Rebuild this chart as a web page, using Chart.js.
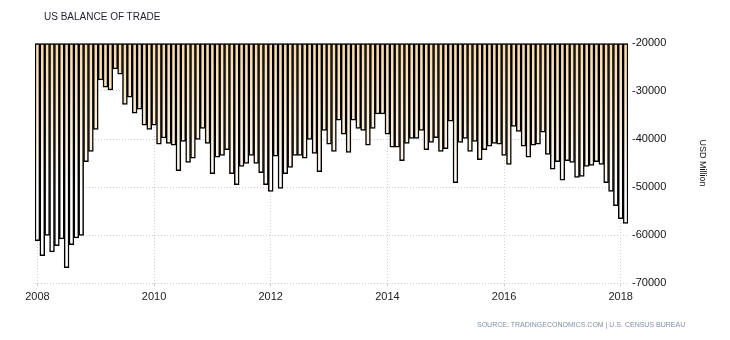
<!DOCTYPE html>
<html>
<head>
<meta charset="utf-8">
<script src="https://cdn.jsdelivr.net/npm/chart.js@4.4.1/dist/chart.umd.min.js"></script>
<style>
  html, body { margin: 0; padding: 0; background: #fff; }
  #wrap { position: relative; width: 730px; height: 340px; }
  #title {
    position: absolute; left: 44px; top: 11px;
    font: 10px "Liberation Sans", Arial, sans-serif; color: #1f1f2e;
  }
  #source {
    position: absolute; left: 477px; top: 321px; white-space: nowrap;
    font: 7px "Liberation Sans", Arial, sans-serif; color: #7f8fa6;
  }
</style>
</head>
<body>
<div id="wrap">
  <canvas id="chart" width="730" height="340"></canvas>
  <div id="title">US BALANCE OF TRADE</div>
  <div id="source">SOURCE: TRADINGECONOMICS.COM | U.S. CENSUS BUREAU</div>
</div>
<script>
// monthly balance of trade, USD million
const y2008 = [-61200, -64300, -60100, -63500, -62200, -60800, -66800, -62000, -60600, -60100, -44700, -42600];
const y2009 = [-38000, -27700, -29200, -29800, -25400, -26500, -32800, -31300, -34600, -33800, -37100, -38000];
const y2010 = [-37100, -41100, -39800, -40900, -41300, -46600, -40500, -44900, -44000, -40100, -37800, -40900];
const y2011 = [-47200, -43800, -43400, -42200, -47200, -49500, -45700, -45100, -43400, -45100, -47000, -49500];
const y2012 = [-50900, -43600, -50300, -47200, -45900, -43400, -43400, -44000, -40100, -43000, -46800, -38200];
const y2013 = [-41100, -42600, -36100, -39000, -42800, -36100, -37800, -38200, -41300, -37800, -34800, -34800];
const y2014 = [-39000, -41700, -41700, -44500, -40900, -39900, -39900, -38200, -42200, -40700, -39700, -42600];
const y2015 = [-42000, -36300, -49100, -40700, -39900, -42600, -40500, -44300, -42200, -41500, -40900, -41100];
const y2016 = [-43400, -45300, -37400, -38400, -41500, -43800, -41300, -41100, -38600, -43200, -46300, -44700];
const y2017 = [-48600, -44500, -44900, -48000, -47800, -45700, -45500, -44700, -45300, -49100, -50900, -53900];
const y2018 = [-56600, -57600];

const years = [2008, 2009, 2010, 2011, 2012, 2013, 2014, 2015, 2016, 2017, 2018];
const yearTicks = ['2008', '2010', '2012', '2014', '2016', '2018'];
const BASE = -20000;

const values = [].concat(y2008, y2009, y2010, y2011, y2012, y2013, y2014, y2015, y2016, y2017, y2018);
const labels = values.map((v, i) => `${years[Math.floor(i / 12)]}-${String(i % 12 + 1).padStart(2, '0')}`);

// label (and gridline) only on January of the listed years
function yearLabel(i) {
  const l = labels[i];
  if (!l || !l.endsWith('-01')) return '';
  const yr = l.slice(0, 4);
  return yearTicks.includes(yr) ? yr : '';
}

let grad = null;
function barFill(ctx) {
  const { chart } = ctx;
  const area = chart.chartArea;
  if (!area) return '#f7ddb0';
  if (!grad) {
    grad = chart.ctx.createLinearGradient(0, area.top, 0, area.bottom);
    grad.addColorStop(0, '#f8d9a6');
    grad.addColorStop(0.62, '#ffffff');
    grad.addColorStop(1, '#ffffff');
  }
  return grad;
}

const FONT = '"Liberation Sans", Arial, sans-serif';

new Chart(document.getElementById('chart'), {
  type: 'bar',
  data: {
    labels,
    datasets: [{
      data: values,
      base: BASE,
      backgroundColor: barFill,
      borderColor: '#000',
      borderWidth: 1.5,
      borderSkipped: false,
      barPercentage: 1,
      categoryPercentage: 1
    }]
  },
  options: {
    responsive: false,
    animation: false,
    events: [],
    layout: { padding: { left: 35, top: 43, right: 22, bottom: 31 } },
    plugins: { legend: { display: false }, tooltip: { enabled: false } },
    scales: {
      x: {
        type: 'category',
        afterFit: s => { s.height = 26; },
        grid: {
          offset: false,
          color: c => yearLabel(c.index) ? '#cfcfcf' : 'transparent',
          lineWidth: 1,
          tickLength: 3
        },
        border: { display: false, dash: [1, 2] },
        ticks: {
          autoSkip: false,
          maxRotation: 0,
          padding: 4,
          color: '#222',
          font: { family: FONT, size: 11 },
          callback: (v, i) => yearLabel(i)
        }
      },
      y: {
        position: 'right',
        min: -70000,
        max: -20000,
        afterFit: s => { s.width = 80; },
        grid: { color: '#cfcfcf', lineWidth: 1, drawTicks: false },
        border: { display: false, dash: [1, 2] },
        ticks: {
          stepSize: 10000,
          padding: 4,
          color: '#111',
          font: { family: FONT, size: 11 },
          callback: v => String(v)
        },
        title: {
          display: true,
          text: 'USD Million',
          color: '#111',
          font: { family: FONT, size: 9 },
          padding: 0
        }
      }
    }
  }
});
</script>
</body>
</html>
